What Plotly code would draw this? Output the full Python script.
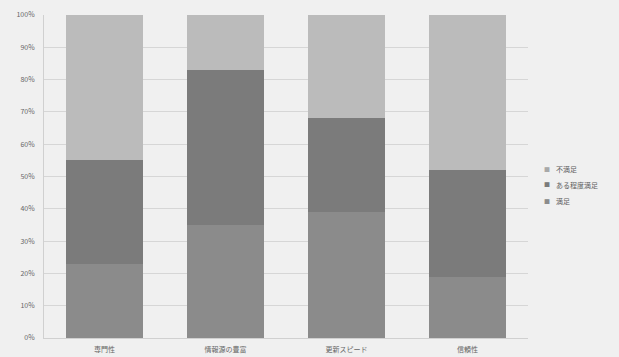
import plotly.graph_objects as go

categories = ["専門性", "情報源の豊富", "更新スピード", "信頼性"]
satisfied = [23, 35, 39, 19]
somewhat = [32, 48, 29, 33]
unsatisfied = [45, 17, 32, 48]
series_names = ["満足", "ある程度満足", "不満足"]
colors = ["#8b8b8b", "#7b7b7b", "#bbbbbb"]
ytick_vals = [0, 10, 20, 30, 40, 50, 60, 70, 80, 90, 100]
ytick_text = [f"{v}%" for v in ytick_vals]

font_family = "Noto Sans CJK JP, Noto Sans, sans-serif"

fig = go.Figure()
for name, vals, col in zip(series_names, [satisfied, somewhat, unsatisfied], colors):
    fig.add_trace(go.Bar(x=categories, y=vals, name=name, showlegend=False,
                         marker=dict(color=col, line=dict(width=0))))

# custom legend (top item = last series)
legend_y = [0.523, 0.474, 0.424]
for i, (name, col) in enumerate(zip(series_names[::-1], colors[::-1])):
    fig.add_annotation(xref="paper", yref="paper", x=1.039, y=legend_y[i],
                       text="■", showarrow=False, xanchor="center", yanchor="middle",
                       font=dict(size=6, color=col if col != "#bbbbbb" else "#a8a8a8"))
    fig.add_annotation(xref="paper", yref="paper", x=1.054, y=legend_y[i],
                       text=name, showarrow=False, xanchor="left", yanchor="middle",
                       font=dict(size=7, color="#5e5e5e"))

fig.update_layout(
    barmode="stack",
    bargap=0.37,
    width=619,
    height=357,
    margin=dict(l=44, r=91, t=15, b=19, autoexpand=False),
    paper_bgcolor="#f0f0f0",
    plot_bgcolor="#f0f0f0",
    font=dict(family=font_family, size=7, color="#666666"),
    showlegend=False,
)
fig.update_yaxes(
    range=[0, 100],
    tickvals=ytick_vals,
    ticktext=ytick_text,
    showgrid=True,
    gridcolor="#d6d6d6",
    gridwidth=1,
    showline=True,
    linecolor="#d0d0d0",
    zeroline=False,
    ticks="",
    ticklabelstandoff=7,
    tickfont=dict(size=7, color="#666666"),
)
fig.update_xaxes(
    showline=True,
    linecolor="#d0d0d0",
    showgrid=False,
    ticks="",
    ticklabelstandoff=5,
    tickfont=dict(size=7, color="#666666"),
)

fig.write_html("out.html")
